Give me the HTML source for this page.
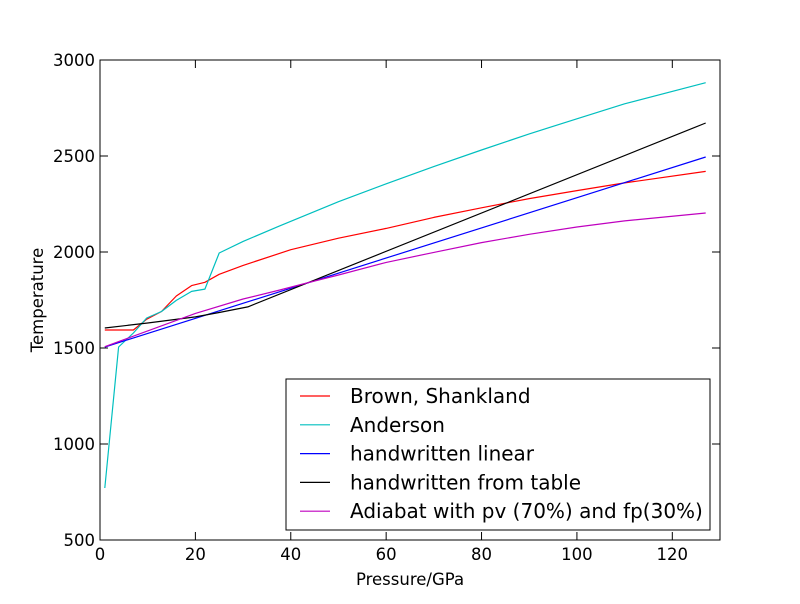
<!DOCTYPE html>
<html><head><meta charset="utf-8"><style>
body{margin:0;background:#fff;font-family:"DejaVu Sans",sans-serif}
</style></head><body>
<svg width="800" height="600" xmlns="http://www.w3.org/2000/svg" font-family="DejaVu Sans, sans-serif">
<rect width="800" height="600" fill="#fff"/>
<g id="series"></g>
<rect x="100" y="60" width="620" height="480" fill="none" stroke="#000"/>
<g id="axes"></g>
<text x="410" y="585" text-anchor="middle" font-size="16.5">Pressure/GPa</text>
<text transform="translate(43,300) rotate(-90)" text-anchor="middle" font-size="16.5">Temperature</text>
<g id="legend"></g>
</svg>
<script>
const xTicks=[0,20,40,60,80,100,120];
const yTicks=[500,1000,1500,2000,2500,3000];
const names=["Brown, Shankland","Anderson","handwritten linear","handwritten from table","Adiabat with pv (70%) and fp(30%)"];
const colors=["#ff0000","#00bfbf","#0000ff","#000000","#bf00bf"];
const brownP=[1,7,9.8,12.9,16,19.2,22,25,30,40,50,60,70,80,90,100,110,127];
const brownT=[1594,1594,1650,1690,1771,1825,1842,1884,1930,2012,2072,2123,2180,2230,2278,2320,2360,2420];
const andP=[1,3.9,7,9.8,12.9,16,19.2,22,25,30,37.6,50,60,70,80,90,100,110,127];
const andT=[771,1505,1578,1656,1690,1748,1795,1807,1995,2055,2135,2262,2355,2445,2531,2615,2694,2772,2882];
const linP=[1,127];
const linT=[1505,2495];
const tabP=[1,10,20,25,31,127];
const tabT=[1604,1630,1662,1685,1714,2672];
const adiP=[1,20,30,37.7,45,50,60,70,80,90,100,110,127];
const adiT=[1507,1680,1755,1802,1849,1880,1946,1998,2049,2092,2130,2162,2203];
const sx=p=>100+p*620/130;
const sy=t=>540-(t-500)*480/2500;
const NS="http://www.w3.org/2000/svg";
const ax=document.getElementById('axes');
function mk(tag,attrs,parent){const e=document.createElementNS(NS,tag);for(const k in attrs)e.setAttribute(k,attrs[k]);parent.appendChild(e);return e;}
xTicks.forEach(v=>{const x=sx(v);
const t1=mk('line',{x1:x,x2:x,y1:540,y2:532,stroke:'#000'},ax);


mk('line',{x1:x,x2:x,y1:60,y2:68,stroke:'#000'},ax);
const tx=mk('text',{x:x,y:560,'text-anchor':'middle','font-size':'16.5'},ax);tx.textContent=v;

});
yTicks.forEach(v=>{const y=sy(v);
const t1=mk('line',{x1:100,x2:108,y1:y,y2:y,stroke:'#000'},ax);


mk('line',{x1:712,x2:720,y1:y,y2:y,stroke:'#000'},ax);
const tx=mk('text',{x:95,y:y+6,'text-anchor':'end','font-size':'16.5'},ax);tx.textContent=v;

});
const sg=document.getElementById('series');
const data=[[brownP,brownT],[andP,andT],[linP,linT],[tabP,tabT],[adiP,adiT]];
const lnames=['line-brown-shankland','line-anderson','line-handwritten-linear','line-handwritten-table','line-adiabat'];
data.forEach((d,i)=>{
const pts=d[0].map((p,j)=>sx(p).toFixed(1)+','+sy(d[1][j]).toFixed(1)).join(' ');
const pl=mk('polyline',{points:pts,fill:'none',stroke:colors[i],'stroke-width':'1.2','stroke-linejoin':'round'},sg);

});
const lg=document.getElementById('legend');
const box=mk('rect',{x:286,y:379,width:424,height:151,fill:'#fff',stroke:'#000'},lg);


names.forEach((n,i)=>{const y=396+i*28.8;
const l=mk('line',{x1:300,x2:330,y1:y,y2:y,stroke:colors[i],'stroke-width':'1.2'},lg);


const t=mk('text',{x:350,y:y+7,'font-size':'20'},lg);t.textContent=n;

});
</script>
</body></html>
